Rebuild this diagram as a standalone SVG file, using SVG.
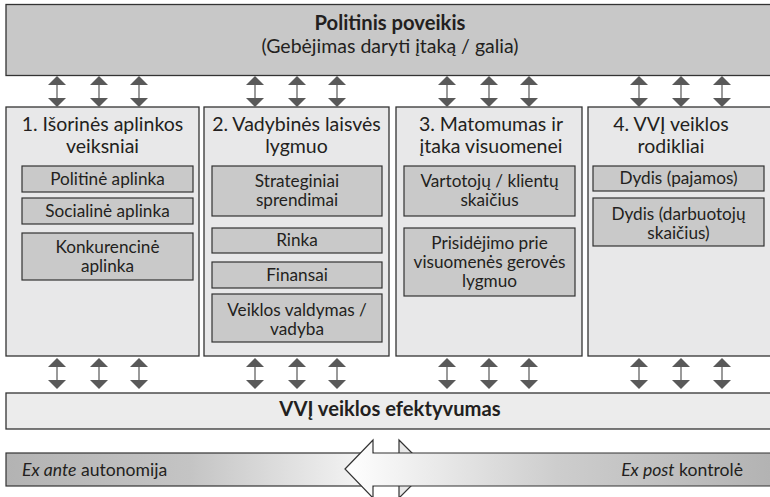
<svg xmlns="http://www.w3.org/2000/svg" width="770" height="497" viewBox="0 0 770 497">
<style>
.t{font-family:Lato,"Open Sans","Liberation Sans",sans-serif;fill:#231f20;text-anchor:middle}
.h{font-size:19.5px}
.s{font-size:17.2px}
.b{font-weight:bold;font-size:20.2px}
.big{fill:#c8c8c8;stroke:#333;stroke-width:1.3}
.col{fill:#e8e8e9;stroke:#333;stroke-width:1.3}
.in{fill:#c9c9c9;stroke:#333;stroke-width:1.2}
.bar{stroke:#333;stroke-width:1.2}
.lab{font-family:Lato,"Open Sans","Liberation Sans",sans-serif;font-size:17.6px;fill:#231f20}
</style>
<defs>
<g id="dArr">
<line x1="0" y1="8" x2="0" y2="23" stroke="#9a9a9a" stroke-width="2"/>
<polygon points="0,0 -9,9 9,9" fill="#595959"/>
<polygon points="-9,22 9,22 0,31" fill="#595959"/>
</g>
<linearGradient id="gL" x1="6" y1="0" x2="373" y2="0" gradientUnits="userSpaceOnUse">
<stop offset="0" stop-color="#b3b3b3"/>
<stop offset="0.5" stop-color="#c4c4c4"/>
<stop offset="1" stop-color="#f7f7f7"/>
</linearGradient>
<linearGradient id="gR" x1="345" y1="0" x2="770" y2="0" gradientUnits="userSpaceOnUse">
<stop offset="0" stop-color="#ffffff"/>
<stop offset="0.5" stop-color="#cdcdcd"/>
<stop offset="1" stop-color="#b3b3b3"/>
</linearGradient>
<linearGradient id="gH" x1="399" y1="0" x2="428" y2="0" gradientUnits="userSpaceOnUse">
<stop offset="0" stop-color="#e6e6e6"/>
<stop offset="1" stop-color="#f4f4f4"/>
</linearGradient>
</defs>

<g id="top">
<rect class="big" x="6" y="4.5" width="780" height="71"/>
<text class="t b" x="390" y="30">Politinis poveikis</text>
<text class="t h" x="390" y="53">(Gebėjimas daryti įtaką / galia)</text>
</g>

<g id="col1">
<rect class="col" x="6" y="107" width="193" height="249"/>
<text class="t h" x="102.5" y="130.5">1. Išorinės aplinkos</text>
<text class="t h" x="102.5" y="153">veiksniai</text>
<g id="c1a"><rect class="in" x="22" y="166" width="171" height="26"/><text class="t s" x="107.5" y="185">Politinė aplinka</text></g>
<g id="c1b"><rect class="in" x="22" y="198" width="171" height="26"/><text class="t s" x="107.5" y="217">Socialinė aplinka</text></g>
<g id="c1c"><rect class="in" x="22" y="233" width="171" height="47"/><text class="t s" x="107.5" y="253">Konkurencinė</text><text class="t s" x="107.5" y="272">aplinka</text></g>
</g>

<g id="col2">
<rect class="col" x="204" y="107" width="185" height="249"/>
<text class="t h" x="296.5" y="130.5">2. Vadybinės laisvės</text>
<text class="t h" x="296.5" y="153">lygmuo</text>
<g id="c2a"><rect class="in" x="212" y="166" width="170" height="50"/><text class="t s" x="297" y="187">Strateginiai</text><text class="t s" x="297" y="206">sprendimai</text></g>
<g id="c2b"><rect class="in" x="212" y="228" width="170" height="25"/><text class="t s" x="297" y="246">Rinka</text></g>
<g id="c2c"><rect class="in" x="212" y="262" width="170" height="26"/><text class="t s" x="297" y="281">Finansai</text></g>
<g id="c2d"><rect class="in" x="212" y="294" width="170" height="48"/><text class="t s" x="297" y="316">Veiklos valdymas /</text><text class="t s" x="297" y="335">vadyba</text></g>
</g>

<g id="col3">
<rect class="col" x="396" y="107" width="186" height="249"/>
<text class="t h" x="491" y="130.5">3. Matomumas ir</text>
<text class="t h" x="491" y="153">įtaka visuomenei</text>
<g id="c3a"><rect class="in" x="404" y="166" width="171" height="50"/><text class="t s" x="489.5" y="187">Vartotojų / klientų</text><text class="t s" x="489.5" y="206">skaičius</text></g>
<g id="c3b"><rect class="in" x="404" y="228" width="171" height="68"/><text class="t s" x="489.5" y="249">Prisidėjimo prie</text><text class="t s" x="489.5" y="268">visuomenės gerovės</text><text class="t s" x="489.5" y="287">lygmuo</text></g>
</g>

<g id="col4">
<rect class="col" x="588" y="107" width="200" height="249"/>
<text class="t h" x="671" y="130.5">4. VVĮ veiklos</text>
<text class="t h" x="671" y="153">rodikliai</text>
<g id="c4a"><rect class="in" x="593" y="166" width="171" height="25"/><text class="t s" x="678.5" y="184">Dydis (pajamos)</text></g>
<g id="c4b"><rect class="in" x="593" y="198" width="171" height="48"/><text class="t s" x="678.5" y="220">Dydis (darbuotojų</text><text class="t s" x="678.5" y="239">skaičius)</text></g>
</g>

<g id="bottom">
<rect x="6" y="393" width="780" height="36" fill="#ececec" stroke="#333" stroke-width="1.3"/>
<text class="t b" x="390" y="416">VVĮ veiklos efektyvumas</text>
</g>

<g id="connectors">
<use href="#dArr" x="57" y="76"/><use href="#dArr" x="99" y="76"/><use href="#dArr" x="139" y="76"/>
<use href="#dArr" x="255" y="76"/><use href="#dArr" x="297" y="76"/><use href="#dArr" x="337" y="76"/>
<use href="#dArr" x="447" y="76"/><use href="#dArr" x="489" y="76"/><use href="#dArr" x="529" y="76"/>
<use href="#dArr" x="639" y="76"/><use href="#dArr" x="681" y="76"/><use href="#dArr" x="722" y="76"/>
<use href="#dArr" x="57" y="358"/><use href="#dArr" x="99" y="358"/><use href="#dArr" x="139" y="358"/>
<use href="#dArr" x="255" y="358"/><use href="#dArr" x="297" y="358"/><use href="#dArr" x="337" y="358"/>
<use href="#dArr" x="447" y="358"/><use href="#dArr" x="489" y="358"/><use href="#dArr" x="529" y="358"/>
<use href="#dArr" x="639" y="358"/><use href="#dArr" x="681" y="358"/><use href="#dArr" x="722" y="358"/>
</g>

<g id="scale">
<rect class="bar" x="6" y="453" width="367" height="33" fill="url(#gL)"/>
<polygon class="bar" points="399,440 428,469 399,498" fill="url(#gH)"/>
<polygon class="bar" points="345,469 373,440 373,453 780,453 780,486 373,486 373,498" fill="url(#gR)"/>
<text class="lab" x="22" y="476"><tspan font-style="italic">Ex ante</tspan> autonomija</text>
<text class="lab" x="743" y="476" text-anchor="end"><tspan font-style="italic">Ex post</tspan> kontrolė</text>
</g>
</svg>
